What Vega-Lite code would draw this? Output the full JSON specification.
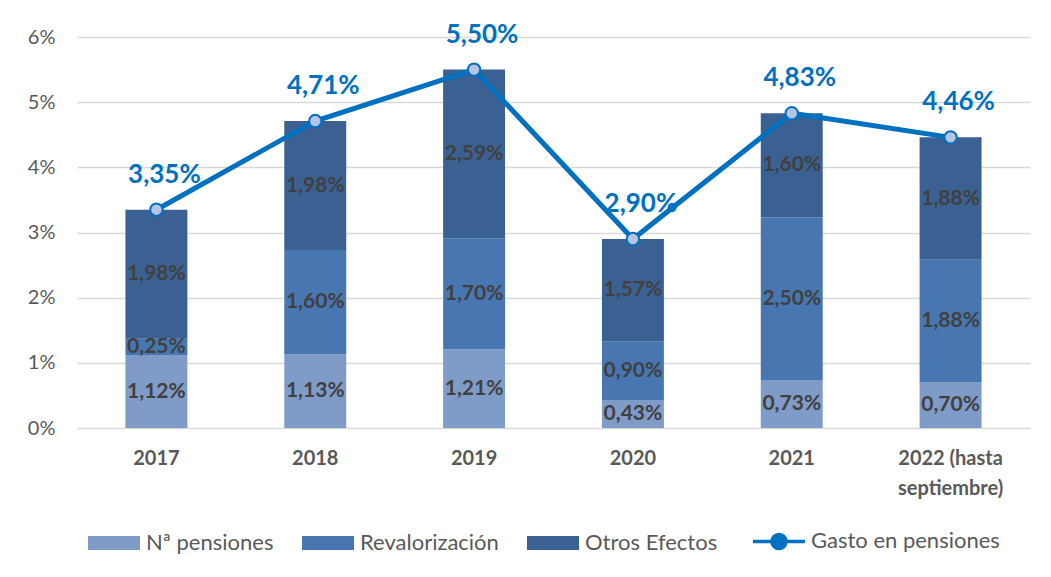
{
  "$schema": "https://vega.github.io/schema/vega-lite/v6.json",
  "width": 953,
  "height": 391,
  "autosize": {"type": "none"},
  "padding": {"left": 77, "top": 37, "right": 21, "bottom": 149},
  "background": "white",
  "config": {
    "font": "Lato",
    "locale": {"number": {"decimal": ",", "thousands": ".", "grouping": [3], "currency": ["", " €"]}},
    "view": {"stroke": null}
  },
  "datasets": {
    "components": [
      {"year": "2017", "component": "Nª pensiones", "order": 1, "value": 0.0112},
      {"year": "2017", "component": "Revalorización", "order": 2, "value": 0.0025},
      {"year": "2017", "component": "Otros Efectos", "order": 3, "value": 0.0198},
      {"year": "2018", "component": "Nª pensiones", "order": 1, "value": 0.0113},
      {"year": "2018", "component": "Revalorización", "order": 2, "value": 0.016},
      {"year": "2018", "component": "Otros Efectos", "order": 3, "value": 0.0198},
      {"year": "2019", "component": "Nª pensiones", "order": 1, "value": 0.0121},
      {"year": "2019", "component": "Revalorización", "order": 2, "value": 0.017},
      {"year": "2019", "component": "Otros Efectos", "order": 3, "value": 0.0259},
      {"year": "2020", "component": "Nª pensiones", "order": 1, "value": 0.0043},
      {"year": "2020", "component": "Revalorización", "order": 2, "value": 0.009},
      {"year": "2020", "component": "Otros Efectos", "order": 3, "value": 0.0157},
      {"year": "2021", "component": "Nª pensiones", "order": 1, "value": 0.0073},
      {"year": "2021", "component": "Revalorización", "order": 2, "value": 0.025},
      {"year": "2021", "component": "Otros Efectos", "order": 3, "value": 0.016},
      {"year": "2022 (hasta septiembre)", "component": "Nª pensiones", "order": 1, "value": 0.007},
      {"year": "2022 (hasta septiembre)", "component": "Revalorización", "order": 2, "value": 0.0188},
      {"year": "2022 (hasta septiembre)", "component": "Otros Efectos", "order": 3, "value": 0.0188}
    ],
    "total": [
      {"year": "2017", "series": "Gasto en pensiones", "total": 0.0335},
      {"year": "2018", "series": "Gasto en pensiones", "total": 0.0471},
      {"year": "2019", "series": "Gasto en pensiones", "total": 0.055},
      {"year": "2020", "series": "Gasto en pensiones", "total": 0.029},
      {"year": "2021", "series": "Gasto en pensiones", "total": 0.0483},
      {"year": "2022 (hasta septiembre)", "series": "Gasto en pensiones", "total": 0.0446}
    ]
  },
  "encoding": {
    "x": {
      "field": "year",
      "type": "nominal",
      "title": null,
      "scale": {
        "domain": ["2017", "2018", "2019", "2020", "2021", "2022 (hasta septiembre)"],
        "paddingInner": 0.61,
        "paddingOuter": 0.305
      },
      "axis": {
        "domain": false,
        "ticks": false,
        "grid": false,
        "labelAngle": 0,
        "labelFontSize": 20,
        "labelFontWeight": "bold",
        "labelColor": "#595959",
        "labelPadding": 20,
        "labelLineHeight": 30,
        "labelExpr": "datum.value == '2022 (hasta septiembre)' ? ['2022 (hasta', 'septiembre)'] : datum.value"
      }
    }
  },
  "layer": [
    {
      "data": {"name": "components"},
      "mark": {"type": "bar"},
      "encoding": {
        "y": {
          "field": "value",
          "type": "quantitative",
          "stack": "zero",
          "title": null,
          "scale": {"domain": [0, 0.06], "nice": false},
          "axis": {
            "values": [0, 0.01, 0.02, 0.03, 0.04, 0.05, 0.06],
            "format": ".0%",
            "domain": false,
            "ticks": false,
            "labelFontSize": 20,
            "labelColor": "#595959",
            "labelPadding": 22,
            "gridColor": "#d9d9d9",
            "gridWidth": 1.5
          }
        },
        "color": {
          "field": "component",
          "type": "nominal",
          "scale": {
            "domain": ["Nª pensiones", "Revalorización", "Otros Efectos", "Gasto en pensiones"],
            "range": ["#7f9bc8", "#4876b0", "#3a6192", "#0070c0"]
          },
          "legend": {
            "orient": "none",
            "legendX": 26,
            "legendY": 493,
            "direction": "horizontal",
            "title": null,
            "symbolSize": 2704,
            "symbolType": "M-1,-0.27H1V0.27H-1Z",
            "labelFontSize": 22,
            "labelColor": "#595959",
            "labelOffset": 21,
            "labelLimit": 400,
            "columnPadding": 28,
            "encode": {
              "symbols": {
                "update": {
                  "shape": {"signal": "datum.value === 'Gasto en pensiones' ? 'M-1,0H-0.27M0.27,0H1M0.27,0A0.27,0.27 0 1,1 -0.27,0A0.27,0.27 0 1,1 0.27,0Z' : 'M-1,-0.27H1V0.27H-1Z'"},
                  "fill": {"signal": "datum.value === 'Gasto en pensiones' ? '#b4c4e2' : datum.value === 'Nª pensiones' ? '#7f9bc8' : datum.value === 'Revalorización' ? '#4876b0' : '#3a6192'"},
                  "stroke": {"signal": "datum.value === 'Gasto en pensiones' ? '#0070c0' : 'transparent'"},
                  "strokeWidth": {"signal": "datum.value === 'Gasto en pensiones' ? 3.5 : 0"},
                  "opacity": {"value": 1}
                }
              }
            }
          }
        },
        "order": {"field": "order"}
      }
    },
    {
      "data": {"name": "components"},
      "transform": [
        {"stack": "value", "groupby": ["year"], "sort": [{"field": "order"}], "as": ["y0", "y1"]},
        {"calculate": "(datum.y0 + datum.y1) / 2", "as": "mid"}
      ],
      "mark": {"type": "text", "fontSize": 21, "fontWeight": "bold", "color": "#404040", "baseline": "middle"},
      "encoding": {
        "y": {"field": "mid", "type": "quantitative"},
        "text": {"field": "value", "type": "quantitative", "format": ".2%"}
      }
    },
    {
      "data": {"name": "total"},
      "mark": {"type": "line", "strokeWidth": 5},
      "encoding": {
        "y": {"field": "total", "type": "quantitative"},
        "color": {"field": "series", "type": "nominal"}
      }
    },
    {
      "data": {"name": "total"},
      "mark": {"type": "point", "filled": true, "fill": "#b4c4e2", "stroke": "#0070c0", "strokeWidth": 2, "size": 154, "opacity": 1},
      "encoding": {
        "y": {"field": "total", "type": "quantitative"}
      }
    },
    {
      "data": {"name": "total"},
      "mark": {"type": "text", "fontSize": 26, "fontWeight": "bold", "color": "#0070c0", "baseline": "middle", "dx": 8, "dy": -35},
      "encoding": {
        "y": {"field": "total", "type": "quantitative"},
        "text": {"field": "total", "type": "quantitative", "format": ".2%"}
      }
    }
  ]
}
